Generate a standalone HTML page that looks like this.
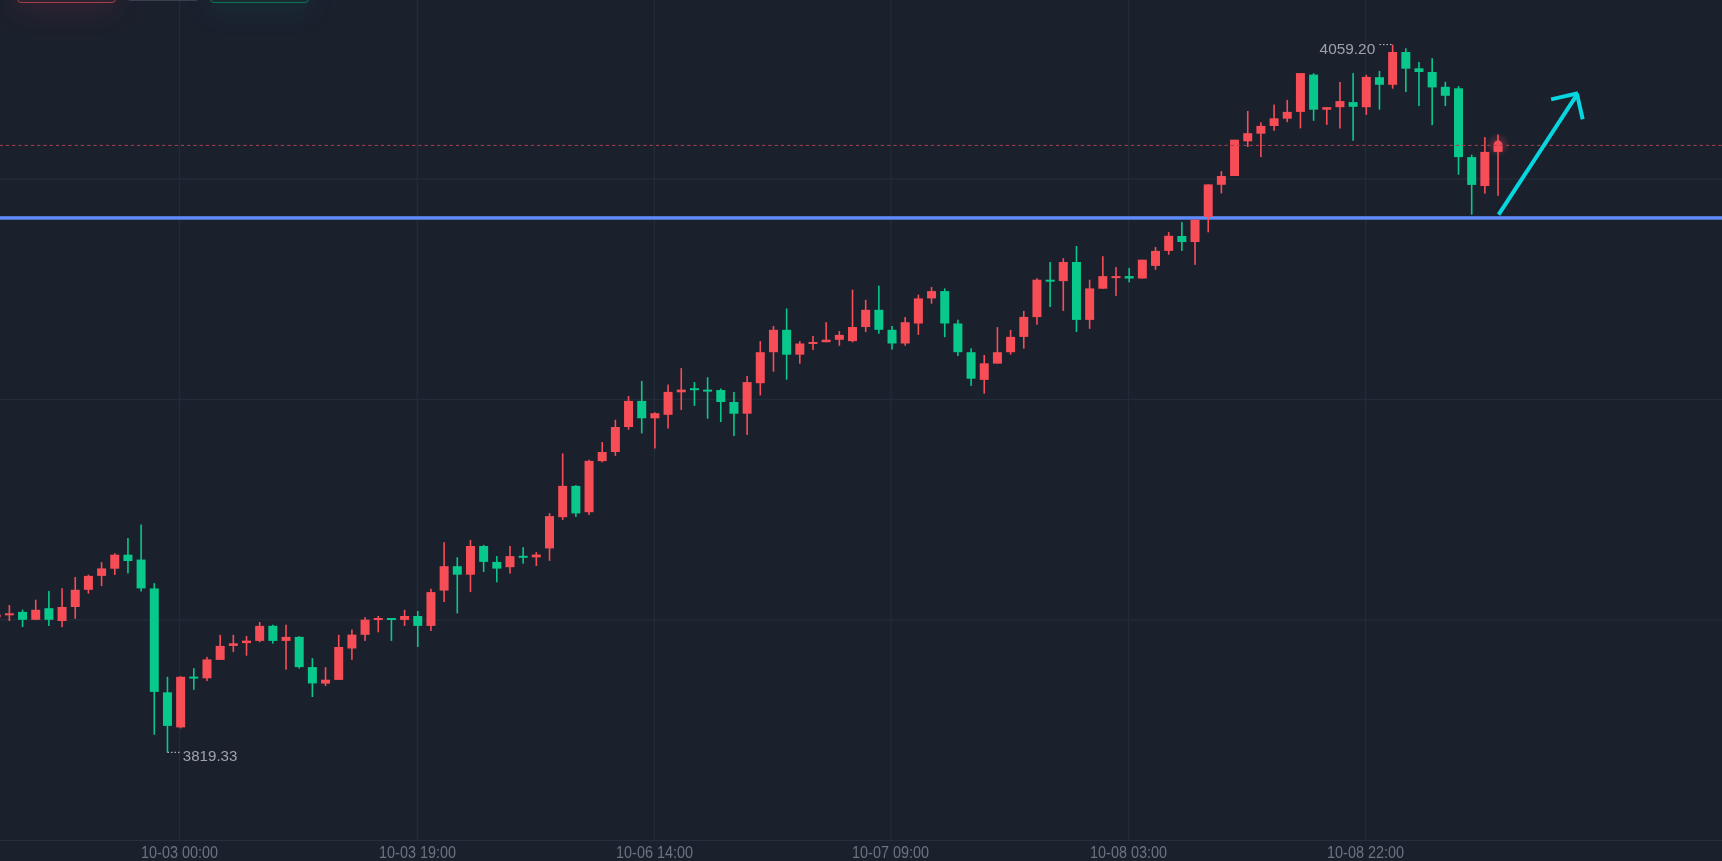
<!DOCTYPE html>
<html><head><meta charset="utf-8"><style>
html,body{margin:0;padding:0;background:#1b202d;width:1722px;height:861px;overflow:hidden}
svg{display:block;position:absolute;left:0;top:0;will-change:transform}
.btn{position:absolute;top:-29px;height:32px;border-radius:4px;box-sizing:border-box}
</style></head><body>
<svg width="1722" height="861" viewBox="0 0 1722 861">
<rect x="0" y="0" width="1722" height="861" fill="#1b202d"/>
<rect x="178.80" y="0" width="1.4" height="840" fill="#222c38"/>
<rect x="416.60" y="0" width="1.4" height="840" fill="#222c38"/>
<rect x="653.70" y="0" width="1.4" height="840" fill="#222c38"/>
<rect x="890.30" y="0" width="1.4" height="840" fill="#222c38"/>
<rect x="1127.80" y="0" width="1.4" height="840" fill="#222c38"/>
<rect x="1364.90" y="0" width="1.4" height="840" fill="#222c38"/>
<rect x="0" y="178.10" width="1722" height="1.4" fill="#222c38"/>
<rect x="0" y="398.80" width="1722" height="1.4" fill="#222c38"/>
<rect x="0" y="619.10" width="1722" height="1.4" fill="#222c38"/>
<rect x="0" y="840" width="1722" height="1" fill="#252f3d"/>
<text x="179.50" y="858" text-anchor="middle" font-family="Liberation Sans, sans-serif" font-size="16" textLength="76.8" lengthAdjust="spacingAndGlyphs" fill="#6c7381">10-03 00:00</text>
<text x="417.50" y="858" text-anchor="middle" font-family="Liberation Sans, sans-serif" font-size="16" textLength="76.8" lengthAdjust="spacingAndGlyphs" fill="#6c7381">10-03 19:00</text>
<text x="654.50" y="858" text-anchor="middle" font-family="Liberation Sans, sans-serif" font-size="16" textLength="76.8" lengthAdjust="spacingAndGlyphs" fill="#6c7381">10-06 14:00</text>
<text x="890.50" y="858" text-anchor="middle" font-family="Liberation Sans, sans-serif" font-size="16" textLength="76.8" lengthAdjust="spacingAndGlyphs" fill="#6c7381">10-07 09:00</text>
<text x="1128.50" y="858" text-anchor="middle" font-family="Liberation Sans, sans-serif" font-size="16" textLength="76.8" lengthAdjust="spacingAndGlyphs" fill="#6c7381">10-08 03:00</text>
<text x="1365.50" y="858" text-anchor="middle" font-family="Liberation Sans, sans-serif" font-size="16" textLength="76.8" lengthAdjust="spacingAndGlyphs" fill="#6c7381">10-08 22:00</text>
<rect x="0" y="216.2" width="1722" height="3.5" fill="#5e8cfc"/>
<defs><radialGradient id="glow"><stop offset="0" stop-color="#f54b57" stop-opacity="0.4"/><stop offset="0.55" stop-color="#f54b57" stop-opacity="0.16"/><stop offset="1" stop-color="#f54b57" stop-opacity="0"/></radialGradient></defs>
<circle cx="1498.04" cy="145" r="12" fill="url(#glow)"/>
<rect x="-4.60" y="612.50" width="1.6" height="6.50" fill="#f74d56"/>
<rect x="-8.30" y="614.60" width="9.0" height="2.60" fill="#f74d56"/>
<rect x="8.57" y="605.00" width="1.6" height="16.00" fill="#f74d56"/>
<rect x="4.87" y="613.30" width="9.0" height="2.00" fill="#f74d56"/>
<rect x="21.75" y="609.60" width="1.6" height="17.50" fill="#08c88b"/>
<rect x="18.05" y="611.90" width="9.0" height="7.90" fill="#08c88b"/>
<rect x="34.92" y="599.70" width="1.6" height="20.10" fill="#f74d56"/>
<rect x="31.22" y="609.80" width="9.0" height="10.00" fill="#f74d56"/>
<rect x="48.10" y="591.00" width="1.6" height="35.00" fill="#08c88b"/>
<rect x="44.40" y="608.20" width="9.0" height="11.60" fill="#08c88b"/>
<rect x="61.27" y="588.20" width="1.6" height="38.90" fill="#f74d56"/>
<rect x="57.57" y="607.00" width="9.0" height="14.00" fill="#f74d56"/>
<rect x="74.44" y="577.00" width="1.6" height="41.80" fill="#f74d56"/>
<rect x="70.74" y="589.80" width="9.0" height="17.20" fill="#f74d56"/>
<rect x="87.62" y="574.70" width="1.6" height="19.00" fill="#f74d56"/>
<rect x="83.92" y="575.90" width="9.0" height="13.90" fill="#f74d56"/>
<rect x="100.79" y="562.10" width="1.6" height="24.00" fill="#f74d56"/>
<rect x="97.09" y="568.40" width="9.0" height="7.50" fill="#f74d56"/>
<rect x="113.97" y="553.30" width="1.6" height="21.60" fill="#f74d56"/>
<rect x="110.27" y="554.70" width="9.0" height="14.00" fill="#f74d56"/>
<rect x="127.14" y="538.00" width="1.6" height="35.50" fill="#08c88b"/>
<rect x="123.44" y="554.70" width="9.0" height="6.30" fill="#08c88b"/>
<rect x="140.31" y="524.50" width="1.6" height="67.00" fill="#08c88b"/>
<rect x="136.61" y="559.60" width="9.0" height="28.80" fill="#08c88b"/>
<rect x="153.49" y="583.10" width="1.6" height="151.60" fill="#08c88b"/>
<rect x="149.79" y="588.40" width="9.0" height="103.50" fill="#08c88b"/>
<rect x="166.66" y="676.80" width="1.6" height="75.70" fill="#08c88b"/>
<rect x="162.96" y="692.30" width="9.0" height="33.60" fill="#08c88b"/>
<rect x="179.84" y="676.20" width="1.6" height="52.20" fill="#f74d56"/>
<rect x="176.14" y="676.80" width="9.0" height="50.60" fill="#f74d56"/>
<rect x="193.01" y="668.20" width="1.6" height="21.60" fill="#08c88b"/>
<rect x="189.31" y="676.60" width="9.0" height="2.00" fill="#08c88b"/>
<rect x="206.18" y="656.90" width="1.6" height="24.10" fill="#f74d56"/>
<rect x="202.48" y="659.40" width="9.0" height="18.90" fill="#f74d56"/>
<rect x="219.36" y="634.80" width="1.6" height="25.10" fill="#f74d56"/>
<rect x="215.66" y="645.90" width="9.0" height="14.00" fill="#f74d56"/>
<rect x="232.53" y="634.80" width="1.6" height="17.30" fill="#f74d56"/>
<rect x="228.83" y="643.30" width="9.0" height="2.60" fill="#f74d56"/>
<rect x="245.71" y="636.00" width="1.6" height="19.70" fill="#f74d56"/>
<rect x="242.01" y="640.60" width="9.0" height="2.50" fill="#f74d56"/>
<rect x="258.88" y="622.00" width="1.6" height="20.20" fill="#f74d56"/>
<rect x="255.18" y="625.90" width="9.0" height="15.00" fill="#f74d56"/>
<rect x="272.05" y="624.70" width="1.6" height="18.90" fill="#08c88b"/>
<rect x="268.35" y="625.80" width="9.0" height="15.10" fill="#08c88b"/>
<rect x="285.23" y="624.70" width="1.6" height="45.00" fill="#f74d56"/>
<rect x="281.53" y="636.90" width="9.0" height="4.00" fill="#f74d56"/>
<rect x="298.40" y="636.20" width="1.6" height="32.30" fill="#08c88b"/>
<rect x="294.70" y="636.90" width="9.0" height="30.20" fill="#08c88b"/>
<rect x="311.58" y="658.10" width="1.6" height="38.90" fill="#08c88b"/>
<rect x="307.88" y="667.10" width="9.0" height="16.30" fill="#08c88b"/>
<rect x="324.75" y="667.10" width="1.6" height="18.90" fill="#f74d56"/>
<rect x="321.05" y="679.70" width="9.0" height="3.90" fill="#f74d56"/>
<rect x="337.92" y="634.80" width="1.6" height="45.10" fill="#f74d56"/>
<rect x="334.22" y="647.00" width="9.0" height="32.90" fill="#f74d56"/>
<rect x="351.10" y="629.60" width="1.6" height="30.20" fill="#f74d56"/>
<rect x="347.40" y="634.60" width="9.0" height="13.90" fill="#f74d56"/>
<rect x="364.27" y="617.20" width="1.6" height="23.70" fill="#f74d56"/>
<rect x="360.57" y="619.70" width="9.0" height="15.10" fill="#f74d56"/>
<rect x="377.45" y="616.00" width="1.6" height="16.30" fill="#f74d56"/>
<rect x="373.75" y="618.00" width="9.0" height="2.00" fill="#f74d56"/>
<rect x="390.62" y="618.00" width="1.6" height="22.90" fill="#08c88b"/>
<rect x="386.92" y="618.00" width="9.0" height="2.00" fill="#08c88b"/>
<rect x="403.79" y="609.80" width="1.6" height="16.10" fill="#f74d56"/>
<rect x="400.09" y="616.00" width="9.0" height="3.90" fill="#f74d56"/>
<rect x="416.97" y="611.00" width="1.6" height="36.00" fill="#08c88b"/>
<rect x="413.27" y="616.00" width="9.0" height="9.90" fill="#08c88b"/>
<rect x="430.14" y="588.70" width="1.6" height="42.30" fill="#f74d56"/>
<rect x="426.44" y="592.10" width="9.0" height="33.80" fill="#f74d56"/>
<rect x="443.32" y="542.20" width="1.6" height="59.80" fill="#f74d56"/>
<rect x="439.62" y="566.20" width="9.0" height="24.40" fill="#f74d56"/>
<rect x="456.49" y="557.30" width="1.6" height="56.10" fill="#08c88b"/>
<rect x="452.79" y="566.20" width="9.0" height="8.50" fill="#08c88b"/>
<rect x="469.66" y="539.90" width="1.6" height="52.20" fill="#f74d56"/>
<rect x="465.96" y="546.00" width="9.0" height="28.70" fill="#f74d56"/>
<rect x="482.84" y="544.90" width="1.6" height="27.10" fill="#08c88b"/>
<rect x="479.14" y="546.00" width="9.0" height="15.90" fill="#08c88b"/>
<rect x="496.01" y="556.10" width="1.6" height="26.20" fill="#08c88b"/>
<rect x="492.31" y="561.90" width="9.0" height="6.70" fill="#08c88b"/>
<rect x="509.19" y="546.00" width="1.6" height="27.60" fill="#f74d56"/>
<rect x="505.49" y="556.10" width="9.0" height="11.10" fill="#f74d56"/>
<rect x="522.36" y="547.20" width="1.6" height="16.50" fill="#08c88b"/>
<rect x="518.66" y="555.80" width="9.0" height="2.00" fill="#08c88b"/>
<rect x="535.53" y="552.10" width="1.6" height="13.90" fill="#f74d56"/>
<rect x="531.83" y="554.60" width="9.0" height="2.70" fill="#f74d56"/>
<rect x="548.71" y="513.20" width="1.6" height="47.60" fill="#f74d56"/>
<rect x="545.01" y="516.10" width="9.0" height="32.30" fill="#f74d56"/>
<rect x="561.88" y="453.40" width="1.6" height="66.50" fill="#f74d56"/>
<rect x="558.18" y="485.90" width="9.0" height="31.30" fill="#f74d56"/>
<rect x="575.06" y="485.10" width="1.6" height="31.80" fill="#08c88b"/>
<rect x="571.36" y="485.90" width="9.0" height="27.50" fill="#08c88b"/>
<rect x="588.23" y="459.70" width="1.6" height="55.20" fill="#f74d56"/>
<rect x="584.53" y="460.90" width="9.0" height="51.30" fill="#f74d56"/>
<rect x="601.40" y="442.00" width="1.6" height="20.30" fill="#f74d56"/>
<rect x="597.70" y="452.00" width="9.0" height="9.10" fill="#f74d56"/>
<rect x="614.58" y="419.80" width="1.6" height="36.00" fill="#f74d56"/>
<rect x="610.88" y="427.00" width="9.0" height="25.00" fill="#f74d56"/>
<rect x="627.75" y="396.00" width="1.6" height="33.70" fill="#f74d56"/>
<rect x="624.05" y="400.90" width="9.0" height="26.10" fill="#f74d56"/>
<rect x="640.93" y="380.90" width="1.6" height="52.50" fill="#08c88b"/>
<rect x="637.23" y="400.90" width="9.0" height="17.40" fill="#08c88b"/>
<rect x="654.10" y="412.30" width="1.6" height="36.20" fill="#f74d56"/>
<rect x="650.40" y="413.20" width="9.0" height="5.10" fill="#f74d56"/>
<rect x="667.27" y="384.60" width="1.6" height="43.90" fill="#f74d56"/>
<rect x="663.57" y="391.90" width="9.0" height="22.90" fill="#f74d56"/>
<rect x="680.45" y="368.10" width="1.6" height="41.80" fill="#f74d56"/>
<rect x="676.75" y="389.60" width="9.0" height="2.70" fill="#f74d56"/>
<rect x="693.62" y="382.10" width="1.6" height="23.80" fill="#08c88b"/>
<rect x="689.92" y="388.20" width="9.0" height="2.00" fill="#08c88b"/>
<rect x="706.80" y="377.20" width="1.6" height="41.50" fill="#08c88b"/>
<rect x="703.10" y="389.60" width="9.0" height="2.00" fill="#08c88b"/>
<rect x="719.97" y="388.50" width="1.6" height="33.60" fill="#08c88b"/>
<rect x="716.27" y="390.00" width="9.0" height="12.00" fill="#08c88b"/>
<rect x="733.14" y="391.90" width="1.6" height="44.20" fill="#08c88b"/>
<rect x="729.44" y="402.00" width="9.0" height="11.70" fill="#08c88b"/>
<rect x="746.32" y="376.00" width="1.6" height="58.90" fill="#f74d56"/>
<rect x="742.62" y="382.10" width="9.0" height="31.60" fill="#f74d56"/>
<rect x="759.49" y="341.10" width="1.6" height="54.30" fill="#f74d56"/>
<rect x="755.79" y="352.20" width="9.0" height="31.00" fill="#f74d56"/>
<rect x="772.67" y="326.00" width="1.6" height="45.70" fill="#f74d56"/>
<rect x="768.97" y="329.80" width="9.0" height="22.40" fill="#f74d56"/>
<rect x="785.84" y="308.40" width="1.6" height="71.30" fill="#08c88b"/>
<rect x="782.14" y="329.80" width="9.0" height="24.90" fill="#08c88b"/>
<rect x="799.01" y="341.10" width="1.6" height="22.60" fill="#f74d56"/>
<rect x="795.31" y="343.50" width="9.0" height="11.20" fill="#f74d56"/>
<rect x="812.19" y="336.00" width="1.6" height="14.00" fill="#f74d56"/>
<rect x="808.49" y="342.00" width="9.0" height="2.00" fill="#f74d56"/>
<rect x="825.36" y="322.20" width="1.6" height="20.00" fill="#f74d56"/>
<rect x="821.66" y="339.70" width="9.0" height="2.50" fill="#f74d56"/>
<rect x="838.54" y="331.10" width="1.6" height="14.70" fill="#f74d56"/>
<rect x="834.84" y="334.90" width="9.0" height="4.90" fill="#f74d56"/>
<rect x="851.71" y="289.60" width="1.6" height="52.70" fill="#f74d56"/>
<rect x="848.01" y="327.00" width="9.0" height="14.10" fill="#f74d56"/>
<rect x="864.88" y="299.80" width="1.6" height="32.30" fill="#f74d56"/>
<rect x="861.18" y="309.80" width="9.0" height="17.20" fill="#f74d56"/>
<rect x="878.06" y="285.70" width="1.6" height="48.00" fill="#08c88b"/>
<rect x="874.36" y="309.80" width="9.0" height="20.00" fill="#08c88b"/>
<rect x="891.23" y="326.00" width="1.6" height="23.60" fill="#08c88b"/>
<rect x="887.53" y="329.80" width="9.0" height="13.70" fill="#08c88b"/>
<rect x="904.41" y="317.00" width="1.6" height="28.80" fill="#f74d56"/>
<rect x="900.71" y="322.20" width="9.0" height="21.30" fill="#f74d56"/>
<rect x="917.58" y="294.60" width="1.6" height="40.20" fill="#f74d56"/>
<rect x="913.88" y="298.40" width="9.0" height="25.10" fill="#f74d56"/>
<rect x="930.75" y="287.00" width="1.6" height="16.70" fill="#f74d56"/>
<rect x="927.05" y="291.10" width="9.0" height="7.30" fill="#f74d56"/>
<rect x="943.93" y="288.40" width="1.6" height="48.70" fill="#08c88b"/>
<rect x="940.23" y="291.10" width="9.0" height="32.40" fill="#08c88b"/>
<rect x="957.10" y="319.70" width="1.6" height="36.30" fill="#08c88b"/>
<rect x="953.40" y="323.50" width="9.0" height="28.70" fill="#08c88b"/>
<rect x="970.28" y="348.30" width="1.6" height="37.60" fill="#08c88b"/>
<rect x="966.58" y="352.20" width="9.0" height="26.50" fill="#08c88b"/>
<rect x="983.45" y="355.00" width="1.6" height="38.60" fill="#f74d56"/>
<rect x="979.75" y="363.30" width="9.0" height="16.60" fill="#f74d56"/>
<rect x="996.62" y="327.10" width="1.6" height="36.50" fill="#f74d56"/>
<rect x="992.92" y="352.20" width="9.0" height="11.40" fill="#f74d56"/>
<rect x="1009.80" y="329.90" width="1.6" height="24.70" fill="#f74d56"/>
<rect x="1006.10" y="336.90" width="9.0" height="15.30" fill="#f74d56"/>
<rect x="1022.97" y="310.90" width="1.6" height="37.70" fill="#f74d56"/>
<rect x="1019.27" y="316.90" width="9.0" height="20.00" fill="#f74d56"/>
<rect x="1036.15" y="278.20" width="1.6" height="46.50" fill="#f74d56"/>
<rect x="1032.45" y="279.70" width="9.0" height="37.40" fill="#f74d56"/>
<rect x="1049.32" y="262.00" width="1.6" height="45.00" fill="#08c88b"/>
<rect x="1045.62" y="279.70" width="9.0" height="2.00" fill="#08c88b"/>
<rect x="1062.49" y="258.20" width="1.6" height="52.70" fill="#f74d56"/>
<rect x="1058.79" y="262.00" width="9.0" height="19.10" fill="#f74d56"/>
<rect x="1075.67" y="246.00" width="1.6" height="86.00" fill="#08c88b"/>
<rect x="1071.97" y="262.00" width="9.0" height="57.90" fill="#08c88b"/>
<rect x="1088.84" y="279.70" width="1.6" height="49.10" fill="#f74d56"/>
<rect x="1085.14" y="288.40" width="9.0" height="31.50" fill="#f74d56"/>
<rect x="1102.02" y="256.20" width="1.6" height="32.50" fill="#f74d56"/>
<rect x="1098.32" y="276.10" width="9.0" height="12.60" fill="#f74d56"/>
<rect x="1115.19" y="267.10" width="1.6" height="28.80" fill="#f74d56"/>
<rect x="1111.49" y="276.10" width="9.0" height="2.00" fill="#f74d56"/>
<rect x="1128.36" y="268.10" width="1.6" height="14.20" fill="#08c88b"/>
<rect x="1124.66" y="276.10" width="9.0" height="2.40" fill="#08c88b"/>
<rect x="1141.54" y="259.70" width="1.6" height="18.80" fill="#f74d56"/>
<rect x="1137.84" y="259.70" width="9.0" height="18.80" fill="#f74d56"/>
<rect x="1154.71" y="247.00" width="1.6" height="22.80" fill="#f74d56"/>
<rect x="1151.01" y="250.90" width="9.0" height="15.00" fill="#f74d56"/>
<rect x="1167.89" y="232.10" width="1.6" height="22.60" fill="#f74d56"/>
<rect x="1164.19" y="235.80" width="9.0" height="15.10" fill="#f74d56"/>
<rect x="1181.06" y="222.10" width="1.6" height="28.80" fill="#08c88b"/>
<rect x="1177.36" y="236.00" width="9.0" height="6.00" fill="#08c88b"/>
<rect x="1194.23" y="219.70" width="1.6" height="45.10" fill="#f74d56"/>
<rect x="1190.53" y="219.70" width="9.0" height="22.30" fill="#f74d56"/>
<rect x="1207.41" y="184.40" width="1.6" height="47.90" fill="#f74d56"/>
<rect x="1203.71" y="184.40" width="9.0" height="32.60" fill="#f74d56"/>
<rect x="1220.58" y="171.10" width="1.6" height="22.30" fill="#f74d56"/>
<rect x="1216.88" y="176.00" width="9.0" height="8.80" fill="#f74d56"/>
<rect x="1233.76" y="139.70" width="1.6" height="36.30" fill="#f74d56"/>
<rect x="1230.06" y="139.70" width="9.0" height="36.30" fill="#f74d56"/>
<rect x="1246.93" y="111.00" width="1.6" height="36.00" fill="#f74d56"/>
<rect x="1243.23" y="133.20" width="9.0" height="8.10" fill="#f74d56"/>
<rect x="1260.10" y="122.30" width="1.6" height="34.80" fill="#f74d56"/>
<rect x="1256.40" y="125.90" width="9.0" height="7.80" fill="#f74d56"/>
<rect x="1273.28" y="104.60" width="1.6" height="26.20" fill="#f74d56"/>
<rect x="1269.58" y="118.30" width="9.0" height="7.70" fill="#f74d56"/>
<rect x="1286.45" y="99.90" width="1.6" height="22.30" fill="#f74d56"/>
<rect x="1282.75" y="111.90" width="9.0" height="6.80" fill="#f74d56"/>
<rect x="1299.63" y="73.10" width="1.6" height="55.30" fill="#f74d56"/>
<rect x="1295.93" y="73.10" width="9.0" height="38.80" fill="#f74d56"/>
<rect x="1312.80" y="73.30" width="1.6" height="47.50" fill="#08c88b"/>
<rect x="1309.10" y="74.60" width="9.0" height="35.10" fill="#08c88b"/>
<rect x="1325.97" y="107.20" width="1.6" height="17.70" fill="#f74d56"/>
<rect x="1322.27" y="107.20" width="9.0" height="2.50" fill="#f74d56"/>
<rect x="1339.15" y="82.00" width="1.6" height="46.50" fill="#f74d56"/>
<rect x="1335.45" y="101.10" width="9.0" height="6.10" fill="#f74d56"/>
<rect x="1352.32" y="73.10" width="1.6" height="67.70" fill="#08c88b"/>
<rect x="1348.62" y="102.10" width="9.0" height="4.70" fill="#08c88b"/>
<rect x="1365.50" y="74.90" width="1.6" height="40.00" fill="#f74d56"/>
<rect x="1361.80" y="76.90" width="9.0" height="30.30" fill="#f74d56"/>
<rect x="1378.67" y="71.00" width="1.6" height="38.70" fill="#08c88b"/>
<rect x="1374.97" y="77.20" width="9.0" height="7.60" fill="#08c88b"/>
<rect x="1391.84" y="44.60" width="1.6" height="44.10" fill="#f74d56"/>
<rect x="1388.14" y="52.00" width="9.0" height="32.80" fill="#f74d56"/>
<rect x="1405.02" y="48.30" width="1.6" height="43.80" fill="#08c88b"/>
<rect x="1401.32" y="52.00" width="9.0" height="16.70" fill="#08c88b"/>
<rect x="1418.19" y="62.00" width="1.6" height="44.00" fill="#08c88b"/>
<rect x="1414.49" y="68.30" width="9.0" height="3.70" fill="#08c88b"/>
<rect x="1431.37" y="58.20" width="1.6" height="66.90" fill="#08c88b"/>
<rect x="1427.67" y="72.00" width="9.0" height="15.40" fill="#08c88b"/>
<rect x="1444.54" y="81.80" width="1.6" height="24.20" fill="#08c88b"/>
<rect x="1440.84" y="86.80" width="9.0" height="9.00" fill="#08c88b"/>
<rect x="1457.71" y="86.10" width="1.6" height="88.60" fill="#08c88b"/>
<rect x="1454.01" y="88.30" width="9.0" height="68.80" fill="#08c88b"/>
<rect x="1470.89" y="154.70" width="1.6" height="60.00" fill="#08c88b"/>
<rect x="1467.19" y="157.10" width="9.0" height="27.80" fill="#08c88b"/>
<rect x="1484.06" y="137.10" width="1.6" height="56.50" fill="#f74d56"/>
<rect x="1480.36" y="151.90" width="9.0" height="34.10" fill="#f74d56"/>
<rect x="1497.24" y="134.60" width="1.6" height="61.20" fill="#f74d56"/>
<rect x="1493.54" y="145.20" width="9.0" height="6.70" fill="#f74d56"/>
<circle cx="1498.04" cy="144.9" r="4.4" fill="#f74d56"/>
<line x1="0" y1="145.4" x2="1722" y2="145.4" stroke="#a8404e" stroke-width="1" stroke-dasharray="3.3 2.95" stroke-dashoffset="0.4"/>
<text x="1319.6" y="54.3" font-family="Liberation Sans, sans-serif" font-size="15.2" textLength="55.6" lengthAdjust="spacingAndGlyphs" fill="#9ea2ab">4059.20</text>
<line x1="1379.5" y1="44.6" x2="1392.7" y2="44.6" stroke="#c9ccd2" stroke-width="1" stroke-dasharray="1.5 2"/>
<text x="182.8" y="761.2" font-family="Liberation Sans, sans-serif" font-size="15.2" textLength="54.6" lengthAdjust="spacingAndGlyphs" fill="#9ea2ab">3819.33</text>
<line x1="167.5" y1="752.3" x2="180" y2="752.3" stroke="#c9ccd2" stroke-width="1" stroke-dasharray="1.5 2"/>
<g stroke="#06d6e0" stroke-width="4" fill="none" stroke-linecap="butt"><line x1="1498.6" y1="214.7" x2="1577.3" y2="94.2"/><line x1="1551.1" y1="99.4" x2="1578.0" y2="93.2"/><line x1="1576.9" y1="93.6" x2="1582.7" y2="119.3"/></g>
</svg>
<div class="btn" style="left:17px;width:99px;border:1.5px solid #a83e4c;background:#2a2430;box-shadow:0 8px 26px rgba(190,60,80,0.15)"></div>
<div class="btn" style="left:127px;width:72px;top:-31px;background:#394050"></div>
<div class="btn" style="left:210px;width:99px;border:1.5px solid #0d7262;background:#1a2a2f;box-shadow:0 8px 26px rgba(10,130,110,0.15)"></div>
</body></html>
